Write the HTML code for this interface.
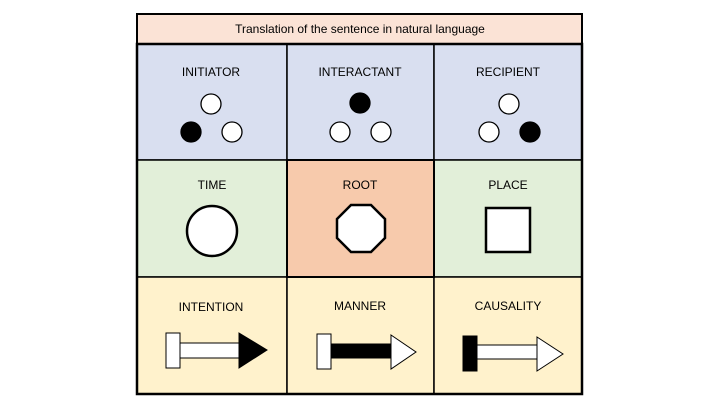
<!DOCTYPE html>
<html><head><meta charset="utf-8"><style>
html,body{margin:0;padding:0;background:#fff;width:720px;height:405px;overflow:hidden}
svg{display:block}
text{font-family:"Liberation Sans",sans-serif;font-size:12px;fill:#000;text-anchor:middle}
</style></head><body>
<svg width="720" height="405" viewBox="0 0 720 405">
<rect x="137" y="14" width="445" height="30" fill="#fbe3d6" stroke="#000" stroke-width="2"/>
<text x="360" y="33" font-size="11">Translation of the sentence in natural language</text>
<rect x="137" y="44" width="150" height="116" fill="#d9dff0" stroke="#000" stroke-width="1.5"/>
<rect x="287" y="44" width="147" height="116" fill="#d9dff0" stroke="#000" stroke-width="1.5"/>
<rect x="434" y="44" width="148" height="116" fill="#d9dff0" stroke="#000" stroke-width="1.5"/>
<rect x="137" y="160" width="150" height="117" fill="#e2efd9" stroke="#000" stroke-width="1.5"/>
<rect x="434" y="160" width="148" height="117" fill="#e2efd9" stroke="#000" stroke-width="1.5"/>
<rect x="137" y="277" width="150" height="117" fill="#fff2cc" stroke="#000" stroke-width="1.5"/>
<rect x="287" y="277" width="147" height="117" fill="#fff2cc" stroke="#000" stroke-width="1.5"/>
<rect x="434" y="277" width="148" height="117" fill="#fff2cc" stroke="#000" stroke-width="1.5"/>
<rect x="287" y="160" width="147" height="117" fill="#f7caac" stroke="#000" stroke-width="2"/>
<rect x="137" y="44" width="445" height="350" fill="none" stroke="#000" stroke-width="2.5"/>
<text x="211" y="76">INITIATOR</text>
<text x="360" y="76">INTERACTANT</text>
<text x="508" y="76">RECIPIENT</text>
<text x="212" y="189">TIME</text>
<text x="360" y="189">ROOT</text>
<text x="508" y="189">PLACE</text>
<text x="211" y="311">INTENTION</text>
<text x="360" y="310">MANNER</text>
<text x="508" y="310">CAUSALITY</text>
<g stroke="#000" stroke-width="1.3">
<circle cx="211" cy="104" r="10" fill="#fff"/><circle cx="191" cy="132" r="10" fill="#000"/><circle cx="232" cy="132" r="10" fill="#fff"/>
<circle cx="360" cy="103" r="10" fill="#000"/><circle cx="340" cy="132" r="10" fill="#fff"/><circle cx="381" cy="132" r="10" fill="#fff"/>
<circle cx="509" cy="104" r="10" fill="#fff"/><circle cx="489" cy="132" r="10" fill="#fff"/><circle cx="530" cy="132" r="10" fill="#000"/>
</g>
<g stroke="#000" stroke-width="2.5" fill="#fff">
<circle cx="212" cy="231" r="25"/>
<polygon points="351,205 371,205 385,219 385,238 371,252 351,252 337,238 337,219"/>
<rect x="486" y="208" width="44" height="44"/>
</g>
<g stroke="#000" stroke-width="1">
<rect x="180" y="343" width="59" height="15" fill="#fff"/>
<rect x="166" y="333" width="14" height="35" fill="#fff"/>
<polygon points="239,333 267,350 239,368" fill="#000"/>
<rect x="331" y="344" width="60" height="14" fill="#000"/>
<rect x="317" y="334" width="14" height="35" fill="#fff"/>
<polygon points="391,335 416,352 391,369" fill="#fff"/>
<rect x="477" y="345" width="60" height="14" fill="#fff"/>
<rect x="463" y="336" width="14" height="35" fill="#000"/>
<polygon points="537,337 563,354 537,371" fill="#fff"/>
</g>
</svg>
</body></html>
